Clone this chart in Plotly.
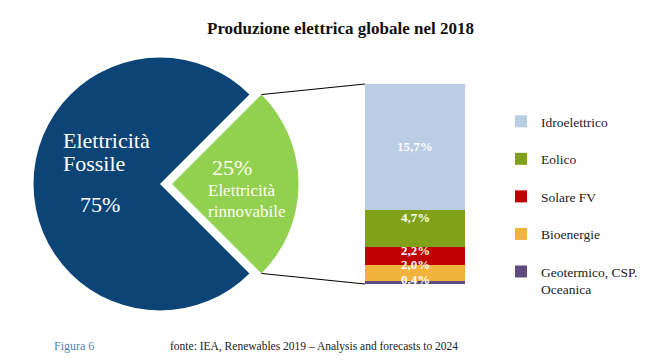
import plotly.graph_objects as go

W, H = 650, 362

# ---- data ----
pie_labels = ["Elettricità rinnovabile", "Elettricità Fossile"]
pie_values = [25, 75]

ren_labels = ["Geotermico, CSP.<br>Oceanica", "Bioenergie", "Solare FV", "Eolico", "Idroelettrico"]
ren_values = [0.4, 2.0, 2.2, 4.7, 15.7]

title_text = "Produzione elettrica globale nel 2018"
fig_label = "Figura 6"
source_text = "fonte: IEA, Renewables 2019 – Analysis and forecasts to 2024"

# ---- style ----
pie_colors = ["#92D050", "#0D4476"]
ren_colors = ["#5F4B7F", "#F2B33D", "#C00000", "#80A218", "#B9CDE5"]
label_lift = [2.5, 8, 6, 11, 0]  # px upward shift of bar value labels
SERIF = "Liberation Serif, Times New Roman, serif"


def px(x):
    return x / W


def py(y):
    return 1 - y / H


# pie geometry (pixels)
cx, cy, r, pull = 160, 184, 126.5, 0.095
box = 2 * r * (1 + pull)

fig = go.Figure()
fig.add_trace(go.Pie(
    labels=pie_labels, values=pie_values, sort=False, direction="clockwise",
    rotation=45, pull=[pull, 0], textinfo="none", hoverinfo="label+percent",
    marker=dict(colors=pie_colors, line=dict(width=0)), showlegend=False,
    domain=dict(x=[px(cx - box / 2), px(cx + box / 2)],
                y=[py(cy + box / 2), py(cy - box / 2)]),
))

n = len(ren_labels)
for i, (lab, val, col) in enumerate(zip(ren_labels, ren_values, ren_colors)):
    fig.add_trace(go.Bar(
        x=[0], y=[val], name=lab, marker=dict(color=col, line=dict(width=0)),
        legendgroup=lab, legendrank=n - i, xaxis="x", yaxis="y", hoverinfo="name+y",
    ))

bar_x0, bar_x1 = 365, 465
bar_top, bar_bot = 84, 284
total = sum(ren_values)

annotations = []
cum = 0
for val, lift in zip(ren_values, label_lift):
    mid = cum + val / 2
    cum += val
    annotations.append(dict(
        x=0, y=mid, xref="x", yref="y", showarrow=False, yshift=lift,
        text="<b>" + f"{val:.1f}".replace(".", ",") + "%</b>",
        font=dict(family=SERIF, size=13, color="white"),
    ))


def ann(text, x, y, size, color, xanchor="center", bold=False):
    t = f"<b>{text}</b>" if bold else text
    annotations.append(dict(text=t, x=px(x), y=py(y), xref="paper", yref="paper",
                            xanchor=xanchor, yanchor="middle", showarrow=False,
                            font=dict(family=SERIF, size=size, color=color)))


ann(title_text, 340, 28, 17, "#111111", bold=True)
ann(fig_label, 52, 346, 12, "#4F7FB8", xanchor="left")
ann(source_text, 168, 346, 11.5, "#222222", xanchor="left")

ann("Elettricità", 61, 140, 22, "white", xanchor="left")
ann("Fossile", 61, 163, 22, "white", xanchor="left")
ann("75%", 100, 204, 22, "white")
ann("25%", 232, 167, 22, "#FFFFF2")
ann("Elettricità", 241, 190, 17, "#FFFFF2")
ann("rinnovabile", 246, 211, 17, "#FFFFF2")

# connector lines from pulled slice corners to bar edges
vx = cx + pull * r
k = r * 0.70710678
shapes = [
    dict(type="line", xref="paper", yref="paper", x0=px(vx + k), y0=py(cy - k),
         x1=px(bar_x0), y1=py(bar_top), line=dict(color="black", width=1)),
    dict(type="line", xref="paper", yref="paper", x0=px(vx + k), y0=py(cy + k),
         x1=px(bar_x0), y1=py(bar_bot), line=dict(color="black", width=1)),
]

fig.update_layout(
    width=W, height=H, margin=dict(l=0, r=0, t=0, b=0),
    paper_bgcolor="white", plot_bgcolor="white",
    barmode="stack", bargap=0,
    xaxis=dict(domain=[px(bar_x0), px(bar_x1)], range=[-0.5, 0.5], visible=False,
               fixedrange=True),
    yaxis=dict(domain=[py(bar_bot), py(bar_top)], range=[0, total], visible=False,
               fixedrange=True),
    legend=dict(x=px(501), y=py(106), xanchor="left", yanchor="top",
                traceorder="grouped", tracegroupgap=17, valign="top",
                font=dict(family=SERIF, size=13.5, color="#222222"),
                bgcolor="rgba(0,0,0,0)"),
    annotations=annotations, shapes=shapes,
)

fig.write_html(
    "out.html",
    config={"displayModeBar": False},
    post_script="document.body.style.margin='0';document.body.style.padding='0';",
)
